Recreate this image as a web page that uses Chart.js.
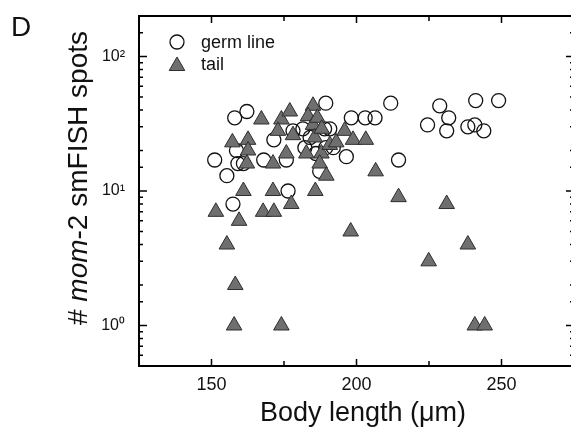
<!DOCTYPE html>
<html>
<head>
<meta charset="utf-8">
<script src="https://cdn.jsdelivr.net/npm/chart.js@4.4.0/dist/chart.umd.min.js"></script>
<style>
html, body { margin: 0; padding: 0; background: #fff; overflow: hidden; }
#wrap { width: 571px; height: 428px; overflow: hidden; position: relative; }
#wrap canvas { position: absolute; left: 0; top: 0; }
</style>
</head>
<body>
<div id="wrap"><canvas id="chart" width="576" height="428" style="width:576px;height:428px"></canvas></div>
<script>
// germ line (open circles)
var germX = [151.1, 155.3, 157.4, 158.6, 159.1, 161, 158, 162.2, 168, 171.5, 175.8, 176.4, 178.1, 181.5, 182.2, 187.3, 189, 190.8, 189.4, 189.4,
             196.5, 198.2, 203, 206.4, 211.8, 214.5, 224.5, 228.7, 231.1, 231.8, 238.4, 240.8, 241.1, 243.9, 249, 184, 186, 192];
var germY = [17, 13, 8, 20, 16, 16, 35, 39, 17, 24, 17, 10, 28, 29, 21, 14, 29, 29, 21, 45,
             18, 35, 35, 35, 45, 17, 31, 43, 28, 35, 30, 31, 47, 28, 47, 25, 19, 21];
// tail (grey triangles)
var tailX = [151.5, 155.3, 158.2, 157.8, 174.1, 159.5, 161, 171.2, 167.8, 171.5, 177.5, 185.8, 157.2, 162.6, 162.6, 162.2, 171.2, 167.2, 174.1, 177,
             185, 183.3, 172.9, 178.1, 185, 185.6, 175.8, 182.7, 187.9, 190.8, 193, 195.9, 198.8, 203.2, 187.3, 189.6, 206.6, 198, 214.5, 231.1,
             238.4, 224.9, 240.8, 244.2, 186.5, 188];
var tailY = [7, 4, 2, 1, 1, 6, 10, 10, 7, 7, 8, 10, 23, 24, 20, 16, 16, 34, 34, 39,
             43, 36, 28, 26, 31, 25, 19, 19, 19, 22, 23, 28, 24, 24, 16, 13, 14, 5, 9, 8,
             4, 3, 1, 1, 35, 29];
var xTickLabels = [150, 200, 250];
var yTickLabels = ['10\u2070', '10\u00b9', '10\u00b2'];

function toPts(xs, ys) {
  return xs.map(function(x, i) { return {x: x, y: ys[i]}; });
}
function isDecade(v) {
  var l = Math.log10(v);
  return Math.abs(l - Math.round(l)) < 1e-6;
}
function noPad(s) {
  s.paddingTop = 0; s.paddingBottom = 0; s.paddingLeft = 0; s.paddingRight = 0;
}

// box, inward ticks, titles and legend
var decor = {
  id: 'decor',
  afterDatasetsDraw: function(chart) {
    var ctx = chart.ctx, a = chart.chartArea;
    var xs = chart.scales.x, ys = chart.scales.y;
    ctx.save();
    ctx.strokeStyle = '#000';
    ctx.lineWidth = 2;
    ctx.strokeRect(a.left, a.top, a.right - a.left, a.bottom - a.top);
    ctx.lineWidth = 1.5;
    ctx.beginPath();
    xs.ticks.forEach(function(t) {
      var px = xs.getPixelForValue(t.value);
      var len = xTickLabels.indexOf(t.value) >= 0 ? 7 : 5;
      ctx.moveTo(px, a.bottom); ctx.lineTo(px, a.bottom - len);
      ctx.moveTo(px, a.top); ctx.lineTo(px, a.top + len);
    });
    ys.ticks.forEach(function(t) {
      var py = ys.getPixelForValue(t.value);
      var len = isDecade(t.value) ? 8 : 4;
      ctx.moveTo(a.left, py); ctx.lineTo(a.left + len, py);
      ctx.moveTo(a.right, py); ctx.lineTo(a.right - len, py);
    });
    ctx.stroke();

    ctx.fillStyle = '#111';
    ctx.textBaseline = 'alphabetic';
    // panel letter
    ctx.font = '28px "Liberation Sans", Arial, sans-serif';
    ctx.textAlign = 'left';
    ctx.fillText('D', 11, 36);
    // x title
    ctx.font = '27px "Liberation Sans", Arial, sans-serif';
    ctx.textAlign = 'center';
    ctx.fillText('Body length (\u03bcm)', 363, 421);
    // y title with italic gene name
    var parts = [['# ', ''], ['mom', 'italic '], ['-2 smFISH spots', '']];
    var w = 0;
    parts.forEach(function(p) {
      ctx.font = p[1] + '28px "Liberation Sans", Arial, sans-serif';
      w += ctx.measureText(p[0]).width;
    });
    ctx.translate(87, 178);
    ctx.rotate(-Math.PI / 2);
    ctx.textAlign = 'left';
    var cx = -w / 2;
    parts.forEach(function(p) {
      ctx.font = p[1] + '28px "Liberation Sans", Arial, sans-serif';
      ctx.fillText(p[0], cx, 0);
      cx += ctx.measureText(p[0]).width;
    });
    ctx.restore();

    // legend
    ctx.save();
    var g = chart.data.datasets[1], tl = chart.data.datasets[0];
    ctx.beginPath();
    ctx.arc(177, 42, g.pointRadius, 0, Math.PI * 2);
    ctx.lineWidth = g.borderWidth;
    ctx.strokeStyle = g.borderColor;
    ctx.stroke();
    var r = tl.pointRadius, ty = 66;
    ctx.beginPath();
    ctx.moveTo(177, ty - r);
    ctx.lineTo(177 + r * Math.sin(2 * Math.PI / 3), ty + r / 2);
    ctx.lineTo(177 - r * Math.sin(2 * Math.PI / 3), ty + r / 2);
    ctx.closePath();
    ctx.fillStyle = tl.backgroundColor;
    ctx.fill();
    ctx.lineWidth = tl.borderWidth;
    ctx.strokeStyle = tl.borderColor;
    ctx.stroke();
    ctx.fillStyle = '#111';
    ctx.font = '18px "Liberation Sans", Arial, sans-serif';
    ctx.textBaseline = 'alphabetic';
    ctx.fillText('germ line', 201, 48);
    ctx.fillText('tail', 201, 70);
    ctx.restore();
  }
};

new Chart(document.getElementById('chart'), {
  type: 'scatter',
  data: {
    datasets: [
      {
        label: 'tail',
        data: toPts(tailX, tailY),
        pointStyle: 'triangle',
        pointRadius: 9,
        backgroundColor: '#6f6f6f',
        borderColor: '#2e2e2e',
        borderWidth: 1,
        order: 0
      },
      {
        label: 'germ line',
        data: toPts(germX, germY),
        pointStyle: 'circle',
        pointRadius: 7,
        backgroundColor: 'rgba(255,255,255,0)',
        borderColor: '#111',
        borderWidth: 1.3,
        order: 1
      }
    ]
  },
  options: {
    responsive: false,
    animation: false,
    layout: { autoPadding: false, padding: { top: 16, right: 2, left: 0, bottom: 0 } },
    plugins: { legend: { display: false }, tooltip: { enabled: false } },
    scales: {
      x: {
        type: 'linear',
        min: 125,
        max: 275,
        afterFit: function(s) { s.height = 62; noPad(s); },
        grid: { display: false, drawTicks: false },
        border: { display: false },
        ticks: {
          stepSize: 25,
          autoSkip: false,
          maxRotation: 0,
          padding: 8,
          color: '#111',
          font: { family: '"Liberation Sans", Arial, sans-serif', size: 18 },
          callback: function(v) { return xTickLabels.indexOf(v) >= 0 ? String(v) : ''; }
        }
      },
      y: {
        type: 'logarithmic',
        min: 0.5,
        max: 200,
        afterFit: function(s) { s.width = 139; noPad(s); },
        grid: { display: false, drawTicks: false },
        border: { display: false },
        ticks: {
          autoSkip: false,
          padding: 14,
          color: '#111',
          font: { family: '"Liberation Sans", Arial, sans-serif', size: 16 },
          callback: function(v) {
            if (!isDecade(v)) return '';
            return yTickLabels[Math.round(Math.log10(v))] || '';
          }
        }
      }
    }
  },
  plugins: [decor]
});
</script>
</body>
</html>
